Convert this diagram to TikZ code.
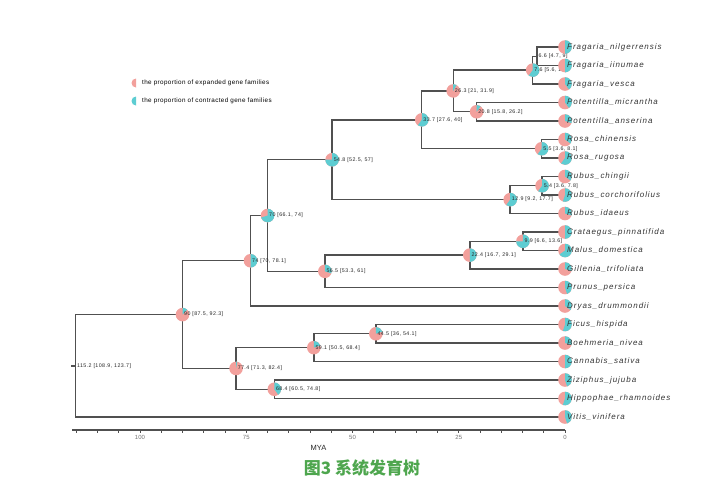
\documentclass[tikz,border=0pt]{standalone}
\usepackage{fontspec}
\setmainfont{Liberation Sans}
\newfontfamily\cjkfont{Noto Sans CJK SC}

\definecolor{expcol}{HTML}{F2A09C}
\definecolor{concol}{HTML}{5DCDD2}
\definecolor{branchcol}{HTML}{505050}
\definecolor{titlecol}{HTML}{4EA64E}

% pie at #1, radius #2, contracted share #3 (clockwise from the top)
\newcommand{\drawpie}[3]{%
    \fill[expcol] (#1) circle (#2);
    \fill[concol] (#1) -- ++(-90:#2) arc[start angle=-90, delta angle=360*#3, radius=#2] -- cycle;
}

\begin{document}
\begin{tikzpicture}[
    x=1pt, y=-1pt,
    every node/.style={font=\normalfont\fontsize{5.3}{6}\selectfont\addfontfeature{LetterSpace=8}, inner sep=0pt},
    branch/.style={draw=branchcol, line width=1.4pt},
    leaf/.style={anchor=west, text=black!80, font=\itshape\fontsize{8}{10}\selectfont\addfontfeature{LetterSpace=12}},
    agelabel/.style={anchor=west, text=black!85},
    ticklabel/.style={text=black!55, font=\fontsize{6}{7}\selectfont},
]
    \useasboundingbox (0,0) rectangle (719,499);

    % tips
    \foreach \i in {0,...,20} {
        \coordinate (t\i) at (565, 47+18.5*\i);
    }

    % internal nodes (x from age in MYA)
    \coordinate (a66)  at ({565-4.25*6.6}, 56.25);
    \coordinate (a76)  at ({565-4.25*7.6}, 70.12);
    \coordinate (a208) at ({565-4.25*20.8}, 111.75);
    \coordinate (a263) at ({565-4.25*26.3}, 90.94);
    \coordinate (a55)  at ({565-4.25*5.5}, 148.75);
    \coordinate (a337) at ({565-4.25*33.7}, 119.84);
    \coordinate (a54)  at ({565-4.25*5.4}, 185.75);
    \coordinate (a129) at ({565-4.25*12.9}, 199.62);
    \coordinate (a548) at ({565-4.25*54.8}, 159.73);
    \coordinate (a99)  at ({565-4.25*9.9}, 241.25);
    \coordinate (a224) at ({565-4.25*22.4}, 255.12);
    \coordinate (a565) at ({565-4.25*56.5}, 271.31);
    \coordinate (a70)  at ({565-4.25*70}, 215.52);
    \coordinate (a74)  at ({565-4.25*74}, 260.76);
    \coordinate (a445) at ({565-4.25*44.5}, 333.75);
    \coordinate (a591) at ({565-4.25*59.1}, 347.62);
    \coordinate (a684) at ({565-4.25*68.4}, 389.25);
    \coordinate (a774) at ({565-4.25*77.4}, 368.44);
    \coordinate (a90)  at ({565-4.25*90}, 314.6);
    \coordinate (root) at ({565-4.25*115.2}, 365.8);
    \coordinate (stub) at (70.5, 365.8);

    % branches
    \foreach \p/\c in {a66/t0, a66/t1, a76/a66, a76/t2, a208/t3, a208/t4, a263/a76, a263/a208,
        a55/t5, a55/t6, a337/a263, a337/a55, a54/t7, a54/t8, a129/a54, a129/t9,
        a548/a337, a548/a129, a99/t10, a99/t11, a224/a99, a224/t12, a565/a224, a565/t13,
        a70/a548, a70/a565, a74/a70, a74/t14, a445/t15, a445/t16, a591/a445, a591/t17,
        a684/t18, a684/t19, a774/a591, a774/a684, a90/a74, a90/a774, root/a90, root/t20} {
        \draw[branch] (\p) |- (\c);
    }
    \draw[branch] (root) -- (stub);

    % pies and labels of internal nodes
    \foreach \nm/\age/\lo/\hi/\fr in {a66/6.6/4.7/9/-1, a76/7.6/5.6/10/0.6, a263/26.3/21/31.9/0.08,
        a208/20.8/15.8/26.2/0.1, a337/33.7/27.6/40/0.6, a55/5.5/3.6/8.1/0.6, a548/54.8/52.5/57/0.75,
        a54/5.4/3.6/7.8/0.6, a129/12.9/9.2/17.7/0.6, a99/9.9/6.6/13.6/0.75, a224/22.4/16.7/29.1/0.5,
        a565/56.5/53.3/61/0.3, a70/70/66.1/74/0.7, a74/74/70/78.1/0.5, a445/44.5/36/54.1/0.2,
        a591/59.1/50.5/68.4/0.2, a684/68.4/60.5/74.8/0.4, a774/77.4/71.3/82.4/0.03,
        a90/90/87.5/92.3/0.12, root/115.2/108.9/123.7/-1} {
        \ifdim \fr pt>0pt
            \drawpie{\nm}{6.8}{\fr}
        \fi
        \node[agelabel] (l\nm) at ([xshift=1.5pt]\nm) {\age{} [\lo, \hi]};
    }

    % pies and names of tips
    \foreach \nm/\fr [count=\i from 0] in {Fragaria\_nilgerrensis/0.5, Fragaria\_iinumae/0.5,
        Fragaria\_vesca/0.4, Potentilla\_micrantha/0.4, Potentilla\_anserina/0.3,
        Rosa\_chinensis/0.35, Rosa\_rugosa/0.6, Rubus\_chingii/0.35, Rubus\_corchorifolius/0.55,
        Rubus\_idaeus/0.3, Crataegus\_pinnatifida/0.5, Malus\_domestica/0.65,
        Gillenia\_trifoliata/0.3, Prunus\_persica/0.45, Dryas\_drummondii/0.35,
        Ficus\_hispida/0.55, Boehmeria\_nivea/0.3, Cannabis\_sativa/0.5, Ziziphus\_jujuba/0.45,
        Hippophae\_rhamnoides/0.55, Vitis\_vinifera/0.45} {
        \drawpie{t\i}{6.8}{\fr}
        \node[leaf] (n\i) at ([xshift=2pt]t\i) {\nm};
    }

    % legend
    \fill[expcol] (136,83) -- ++(-90:4.5) arc[start angle=270, end angle=90, radius=4.5] -- cycle;
    \fill[concol] (136,101) -- ++(-90:4.5) arc[start angle=270, end angle=90, radius=4.5] -- cycle;
    \node[anchor=west, font=\fontsize{6.3}{7}\selectfont\addfontfeature{LetterSpace=6}] (legexp) at (142,83) {the proportion of expanded gene families};
    \node[anchor=west, font=\fontsize{6.3}{7}\selectfont\addfontfeature{LetterSpace=6}] (legcon) at (142,101) {the proportion of contracted gene families};

    % time axis
    \draw[branchcol, line width=1.1pt] (72,430) -- (565,430);
    \foreach \k in {0,5,...,115} {
        \draw[branchcol, line width=0.7pt] ({565-4.25*\k},430) -- ++(0,3);
    }
    \foreach \k in {0,25,...,100} {
        \node[ticklabel] (tick\k) at ({565-4.25*\k},437.5) {\k};
    }
    \node[font=\fontsize{7.5}{9}\selectfont, text=black!85] (mya) at (318.5,447.5) {MYA};

    \node[font=\cjkfont\bfseries\fontsize{17}{20}\selectfont, text=titlecol] (title) at (362,468) {图3 系统发育树};
\end{tikzpicture}
\end{document}
